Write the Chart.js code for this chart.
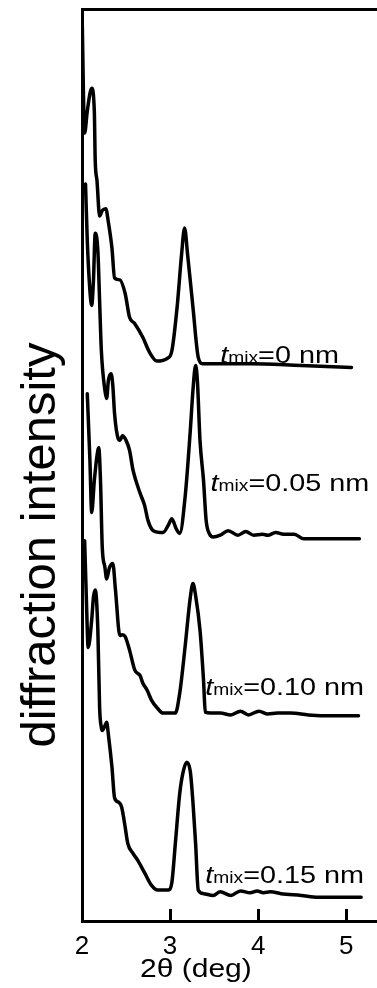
<!DOCTYPE html>
<html>
<head>
<meta charset="utf-8">
<title>diffraction intensity</title>
<script src="https://cdn.jsdelivr.net/npm/chart.js@4.4.1/dist/chart.umd.min.js"></script>
<style>
  html, body { margin: 0; padding: 0; background: #fff; overflow: hidden; }
  #xrd { display: block; }
</style>
</head>
<body>
<canvas id="xrd" width="377" height="988"></canvas>
<script>
// 2θ (deg) and stacked intensity (a.u.) for each mixing thickness
const tth0  = [2.00, 2.03, 2.06, 2.11, 2.14, 2.15, 2.17, 2.20, 2.23, 2.27, 2.30, 2.34, 2.37, 2.43, 2.49, 2.54, 2.60, 2.69, 2.77, 2.85, 2.97, 3.02, 3.08, 3.13, 3.165, 3.20, 3.26, 3.32, 3.37, 3.54, 3.91, 4.49, 5.06];
const int0  = [100.0, 86.4, 88.8, 91.3, 88.8, 83.4, 81.2, 77.3, 77.9, 78.1, 76.6, 73.8, 70.5, 70.3, 68.8, 66.2, 65.5, 64.0, 62.3, 61.4, 61.7, 62.5, 67.3, 73.0, 76.0, 73.0, 67.3, 61.8, 61.1, 61.1, 61.1, 60.9, 60.7];

const tth05 = [2.04, 2.06, 2.09, 2.11, 2.13, 2.15, 2.18, 2.20, 2.22, 2.26, 2.28, 2.30, 2.33, 2.35, 2.37, 2.41, 2.43, 2.46, 2.50, 2.54, 2.58, 2.66, 2.71, 2.75, 2.81, 2.92, 2.98, 3.02, 3.07, 3.11, 3.17, 3.23, 3.26, 3.29, 3.31, 3.34, 3.38, 3.41, 3.45, 3.49, 3.57, 3.66, 3.77, 3.86, 3.95, 4.05, 4.11, 4.20, 4.29, 4.41, 4.52, 4.83, 5.15];
const int05 = [80.8, 74.6, 69.1, 67.5, 70.2, 75.4, 73.5, 68.0, 62.5, 58.2, 57.3, 59.3, 60.0, 58.7, 55.6, 52.9, 52.7, 53.2, 52.7, 51.6, 49.4, 46.9, 45.6, 43.9, 42.8, 42.6, 43.4, 44.1, 43.0, 42.5, 46.4, 53.8, 58.2, 60.9, 59.3, 52.7, 48.3, 43.9, 42.4, 42.1, 42.3, 42.8, 42.3, 42.7, 42.3, 42.4, 42.3, 42.6, 42.4, 42.4, 41.9, 41.9, 41.9];

const tth10 = [2.06, 2.09, 2.11, 2.14, 2.17, 2.19, 2.21, 2.23, 2.26, 2.28, 2.31, 2.35, 2.38, 2.43, 2.46, 2.49, 2.54, 2.60, 2.66, 2.69, 2.74, 2.79, 2.86, 2.92, 3.06, 3.11, 3.17, 3.23, 3.26, 3.29, 3.34, 3.38, 3.40, 3.46, 3.57, 3.69, 3.80, 3.89, 4.01, 4.11, 4.22, 4.37, 4.57, 4.83, 5.14];
const int10 = [57.8, 50.5, 44.8, 48.3, 51.0, 51.9, 48.3, 41.0, 38.8, 37.5, 38.7, 39.2, 36.3, 31.3, 31.4, 31.2, 29.7, 27.5, 26.9, 26.1, 25.3, 24.2, 23.3, 22.8, 22.8, 25.0, 30.0, 35.5, 37.0, 35.7, 31.9, 26.4, 22.9, 22.8, 22.8, 22.6, 23.0, 22.6, 23.0, 22.7, 22.8, 22.8, 22.6, 22.5, 22.5];

const tth15 = [2.03, 2.05, 2.07, 2.11, 2.13, 2.15, 2.18, 2.20, 2.22, 2.23, 2.26, 2.28, 2.30, 2.34, 2.37, 2.42, 2.45, 2.49, 2.52, 2.58, 2.63, 2.71, 2.79, 2.86, 2.98, 3.02, 3.06, 3.11, 3.15, 3.19, 3.23, 3.26, 3.29, 3.32, 3.38, 3.49, 3.57, 3.69, 3.80, 3.91, 3.99, 4.06, 4.14, 4.26, 4.49, 4.68, 5.17];
const int15 = [41.7, 35.2, 30.0, 33.0, 35.5, 36.3, 31.9, 23.4, 21.2, 20.9, 21.4, 21.8, 20.4, 16.9, 13.5, 13.0, 12.5, 10.3, 8.5, 7.4, 6.7, 5.3, 3.9, 3.4, 3.4, 4.2, 8.5, 14.0, 16.4, 17.4, 16.4, 13.0, 8.5, 3.4, 3.0, 2.8, 3.2, 2.8, 3.3, 3.1, 3.3, 3.1, 3.2, 3.0, 2.8, 2.6, 2.6];

const mixValues = ['0', '0.05', '0.10', '0.15'];
const xTicks = [2, 3, 4, 5];

// where each t_mix label sits (2θ, intensity of its baseline)
const labelAt = [[3.57, 61.2], [3.46, 47.2], [3.40, 24.8], [3.40, 4.2]];

const FONT = '"Liberation Sans", Arial, Helvetica, sans-serif';

function toPoints(xs, ys) {
    return xs.map((v, i) => ({ x: v, y: ys[i] }));
}

const curves = [[tth0, int0], [tth05, int05], [tth10, int10], [tth15, int15]];

const datasets = curves.map((c, i) => ({
    label: 't_mix=' + mixValues[i] + ' nm',
    data: toPoints(c[0], c[1]),
    borderColor: '#000',
    borderWidth: 3.5,
    pointRadius: 0,
    fill: false,
    cubicInterpolationMode: 'monotone',
    borderJoinStyle: 'round',
    borderCapStyle: 'round'
}));

// curve labels and axis titles
const annotate = {
    id: 'annotate',
    afterDraw(chart) {
        const { ctx, scales: { x, y } } = chart;
        ctx.save();
        ctx.fillStyle = '#000';
        ctx.textBaseline = 'alphabetic';
        ctx.textAlign = 'left';

        mixValues.forEach((v, i) => {
            ctx.save();
            ctx.translate(x.getPixelForValue(labelAt[i][0]), y.getPixelForValue(labelAt[i][1]));
            ctx.scale(1.2, 1);
            let cx = 0;
            ctx.font = 'italic 24px ' + FONT;
            ctx.fillText('t', cx, 0);
            cx += ctx.measureText('t').width;
            ctx.font = '16px ' + FONT;
            ctx.fillText('mix', cx, 0);
            cx += ctx.measureText('mix').width;
            ctx.font = '24px ' + FONT;
            ctx.fillText('=' + v + ' nm', cx, 0);
            ctx.restore();
        });

        // x title
        ctx.save();
        ctx.translate(140, 977);
        ctx.scale(1.2, 1);
        ctx.font = '25px ' + FONT;
        ctx.fillText('2θ (deg)', 0, 0);
        ctx.restore();

        // y title
        ctx.save();
        ctx.translate(55, 545);
        ctx.rotate(-Math.PI / 2);
        ctx.textAlign = 'center';
        ctx.font = '49px ' + FONT;
        ctx.fillText('diffraction intensity', 0, 0);
        ctx.restore();

        ctx.restore();
    }
};

new Chart(document.getElementById('xrd'), {
    type: 'line',
    data: { datasets },
    options: {
        responsive: false,
        devicePixelRatio: 1,
        animation: false,
        events: [],
        layout: { padding: { top: 9, right: 0, bottom: 0, left: 0 } },
        plugins: {
            legend: { display: false },
            tooltip: { enabled: false }
        },
        scales: {
            x: {
                type: 'linear',
                position: 'bottom',
                min: 2,
                max: 5.35,
                afterBuildTicks: s => { s.ticks = xTicks.map(v => ({ value: v })); },
                afterFit: s => { s.height = 67; },
                ticks: {
                    color: '#000',
                    padding: 22,
                    maxRotation: 0,
                    font: { family: FONT, size: 26 }
                },
                grid: {
                    drawOnChartArea: false,
                    drawTicks: true,
                    tickLength: -12,
                    tickWidth: 3,
                    tickColor: '#000'
                },
                border: { display: true, color: '#000', width: 3 }
            },
            xTop: {
                type: 'linear',
                position: 'top',
                min: 0,
                max: 1,
                afterFit: s => { s.height = 0; },
                ticks: { display: false },
                grid: { display: false },
                border: { display: true, color: '#000', width: 3 }
            },
            y: {
                type: 'linear',
                min: 0,
                max: 100,
                afterFit: s => { s.width = 82; },
                ticks: { display: false },
                grid: { display: false },
                border: { display: true, color: '#000', width: 3 }
            }
        }
    },
    plugins: [annotate]
});
</script>
</body>
</html>
